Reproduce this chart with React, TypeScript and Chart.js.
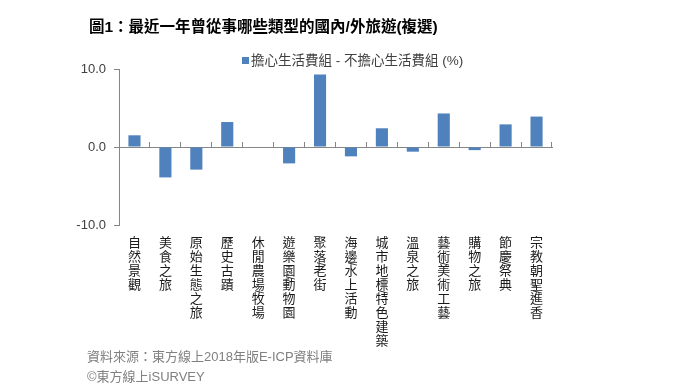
import React, { useEffect, useRef } from 'react';
import { Chart, registerables } from 'chart.js';

Chart.register(...registerables);

const TITLE = '圖1：最近一年曾從事哪些類型的國內/外旅遊(複選)';
const SERIES_LABEL = '擔心生活費組 - 不擔心生活費組 (%)';
const CATEGORIES = [
  '自然景觀',
  '美食之旅',
  '原始生態之旅',
  '歷史古蹟',
  '休閒農場/牧場',
  '遊樂園/動物園',
  '聚落/老街',
  '海邊/水上活動',
  '城市地標/特色建築',
  '溫泉之旅',
  '藝術/美術工藝',
  '購物之旅',
  '節慶/祭典',
  '宗教朝聖/進香',
];
const VALUES = [1.5, -3.9, -2.9, 3.2, 0, -2.1, 9.3, -1.2, 2.4, -0.6, 4.3, -0.4, 2.9, 3.9];
const Y_MIN = -10;
const Y_MAX = 10;
const Y_STEP = 10;
const SOURCE_LINES = ['資料來源：東方線上2018年版E-ICP資料庫', '©東方線上iSURVEY'];

const BAR_COLOR = '#4F81BD';
const AXIS_COLOR = '#868686';
const FONT = "'Liberation Sans', Arial, 'Noto Sans CJK TC', sans-serif";

const textPlugin = {
  id: 'textPlugin',
  afterDraw(chart: any) {
    const ctx = chart.ctx as CanvasRenderingContext2D;
    const xs = chart.scales.x;
    const area = chart.chartArea;
    ctx.save();
    ctx.textBaseline = 'middle';

    // title
    ctx.fillStyle = '#000000';
    ctx.textAlign = 'left';
    ctx.font = `bold 15.5px ${FONT}`;
    ctx.fillText(TITLE, 89, 28);

    // legend
    const ds = chart.data.datasets[0];
    ctx.fillStyle = ds.backgroundColor;
    ctx.fillRect(242, 57, 7, 7);
    ctx.fillStyle = '#404040';
    ctx.font = `13.5px ${FONT}`;
    ctx.fillText(ds.label, 251, 61);

    // vertical category labels
    ctx.fillStyle = '#1a1a1a';
    ctx.textAlign = 'center';
    const labels = chart.data.labels as string[];
    labels.forEach((label, i) => {
      const x = xs.getPixelForValue(i);
      let y = area.bottom + 18;
      Array.from(label).forEach((c) => {
        if (c === '/') {
          ctx.save();
          ctx.translate(x, y - 7);
          ctx.rotate(Math.PI / 2);
          ctx.font = `12px ${FONT}`;
          ctx.fillText('/', 0, 0);
          ctx.restore();
        } else {
          ctx.font = `13px ${FONT}`;
          ctx.fillText(c, x, y);
          y += 14;
        }
      });
    });

    // source
    ctx.textAlign = 'left';
    ctx.fillStyle = '#808080';
    ctx.font = `13px ${FONT}`;
    SOURCE_LINES.forEach((line, k) => {
      ctx.fillText(line, 87, 357 + k * 20);
    });
    ctx.restore();
  },
};

export default function App() {
  const ref = useRef<HTMLCanvasElement | null>(null);

  useEffect(() => {
    if (!ref.current) return;
    const chart = new Chart(ref.current, {
      type: 'bar',
      data: {
        labels: CATEGORIES,
        datasets: [
          {
            label: SERIES_LABEL,
            data: VALUES,
            backgroundColor: BAR_COLOR,
            borderWidth: 0,
            categoryPercentage: 0.8,
            barPercentage: 0.49,
          },
        ],
      },
      options: {
        responsive: false,
        devicePixelRatio: 1,
        animation: false,
        layout: { padding: { left: 60, top: 69, right: 148, bottom: 165 } },
        plugins: {
          legend: { display: false },
          tooltip: { enabled: false },
          title: { display: false },
        },
        scales: {
          x: {
            type: 'category',
            position: { y: 0 } as any,
            offset: true,
            ticks: { display: false },
            grid: {
              offset: true,
              drawOnChartArea: false,
              drawTicks: true,
              tickLength: -6,
              color: AXIS_COLOR,
            },
            border: { display: true, color: AXIS_COLOR },
          },
          y: {
            min: Y_MIN,
            max: Y_MAX,
            afterFit: (s: any) => {
              s.width = 59;
            },
            ticks: {
              stepSize: Y_STEP,
              padding: 8,
              color: '#404040',
              font: { size: 13, family: FONT },
              callback: (v: any) => Number(v).toFixed(1),
            },
            grid: {
              drawOnChartArea: false,
              drawTicks: true,
              tickLength: 5,
              color: AXIS_COLOR,
            },
            border: { display: true, color: AXIS_COLOR },
          },
        },
      },
      plugins: [textPlugin],
    });
    return () => chart.destroy();
  }, []);

  return (
    <div style={{ position: 'fixed', left: 0, top: 0, width: 700, height: 390, background: '#fff' }}>
      <canvas ref={ref} width={700} height={390} style={{ display: 'block' }} />
    </div>
  );
}
